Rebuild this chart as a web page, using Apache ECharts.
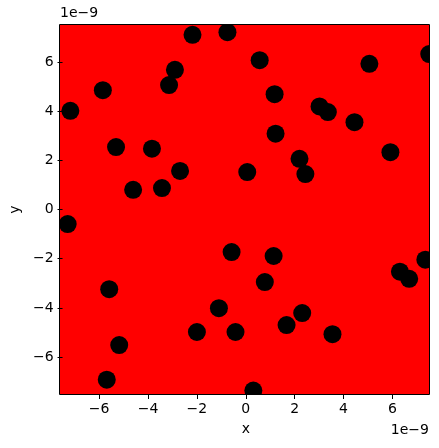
<!DOCTYPE html>
<html>
<head>
<meta charset="utf-8">
<script src="https://cdn.jsdelivr.net/npm/echarts@6/dist/echarts.min.js"></script>
<style>
  html, body { margin: 0; padding: 0; background: #fff; }
  #chart { width: 439px; height: 448px; }
</style>
</head>
<body>
<div id="chart"></div>
<script>
// values are in units of 1e-9 (the axis offset text)
const scaleText = '1e\u22129'
const xVals = [
  -2.18, -0.75, -2.90, -3.14, -5.85, -7.18, -5.31, -3.84, -2.69, -4.61,
  -3.43, 0.06, 0.57, 5.06, 7.51, 1.18, 3.02, 3.36, 4.45, 1.22,
  2.20, 2.44, 5.92, -7.29, -0.58, -5.59, -1.10, -2.00, -0.42, -5.18,
  -5.69, 0.31, 1.14, 0.78, 2.31, 1.67, 3.55, 6.31, 6.69, 7.35
]
const yVals = [
  7.10, 7.21, 5.68, 5.06, 4.85, 4.01, 2.54, 2.47, 1.57, 0.80,
  0.87, 1.52, 6.07, 5.92, 6.32, 4.69, 4.19, 3.96, 3.55, 3.08,
  2.06, 1.44, 2.33, -0.59, -1.73, -3.24, -4.01, -4.98, -4.98, -5.51,
  -6.92, -7.36, -1.89, -2.95, -4.21, -4.70, -5.07, -2.53, -2.82, -2.04
]
const tickVals = [-6, -4, -2, 0, 2, 4, 6]
const axisMin = -7.5
const axisMax = 7.5

const font = 'DejaVu Sans'
const plot = { left: 60, top: 25, width: 369, height: 369 }

const points = xVals.map((x, i) => [x, yVals[i]])
const fmt = v => String(v).replace('-', '\u2212')

function makeAxis(isX) {
  return {
    type: 'value',
    min: axisMin,
    max: axisMax,
    z: 20,
    name: isX ? 'x' : 'y',
    nameLocation: 'middle',
    nameGap: isX ? 28 : 31,
    nameTextStyle: { color: '#000', fontSize: 14, fontFamily: font },
    axisLine: { show: false, onZero: false },
    axisTick: {
      show: true, length: 5, customValues: tickVals,
      lineStyle: { color: '#000', width: 1 }
    },
    axisLabel: {
      show: true, customValues: tickVals, margin: isX ? 8 : 9,
      color: '#000', fontSize: 14, fontFamily: font, formatter: fmt
    },
    splitLine: { show: false },
    splitArea: { show: false }
  }
}

const myChart = echarts.init(document.getElementById('chart'))
const W = 439, H = 448
const mask = (x, y, w, h) => ({
  type: 'rect', z: 10, silent: true,
  shape: { x: x, y: y, width: w, height: h },
  style: { fill: '#fff' }
})

const option = {
  animation: false,
  backgroundColor: '#fff',
  grid: {
    left: plot.left, top: plot.top, width: plot.width, height: plot.height,
    show: false
  },
  xAxis: makeAxis(true),
  yAxis: makeAxis(false),
  graphic: [
    {
      type: 'rect', z: 0, silent: true,
      shape: { x: plot.left, y: plot.top, width: plot.width, height: plot.height },
      style: { fill: '#ff0000' }
    },
    mask(0, 0, plot.left, H),
    mask(plot.left + plot.width, 0, W - plot.left - plot.width, H),
    mask(0, 0, W, plot.top),
    mask(0, plot.top + plot.height, W, H - plot.top - plot.height),
    {
      type: 'rect', z: 15, silent: true,
      shape: { x: plot.left - 0.5, y: plot.top - 0.5, width: plot.width + 1, height: plot.height + 1 },
      style: { fill: null, stroke: '#000', lineWidth: 1 }
    },
    {
      type: 'text', z: 15, left: 60, top: 6,
      style: { text: scaleText, fill: '#000', font: '14px "DejaVu Sans"' }
    },
    {
      type: 'text', z: 15, right: 10, top: 423,
      style: { text: scaleText, fill: '#000', font: '14px "DejaVu Sans"' }
    }
  ],
  series: [{
    type: 'scatter',
    data: points,
    symbol: 'circle',
    symbolSize: 18,
    clip: false,
    itemStyle: { color: '#000', opacity: 1 }
  }]
}
myChart.setOption(option)
</script>
</body>
</html>
